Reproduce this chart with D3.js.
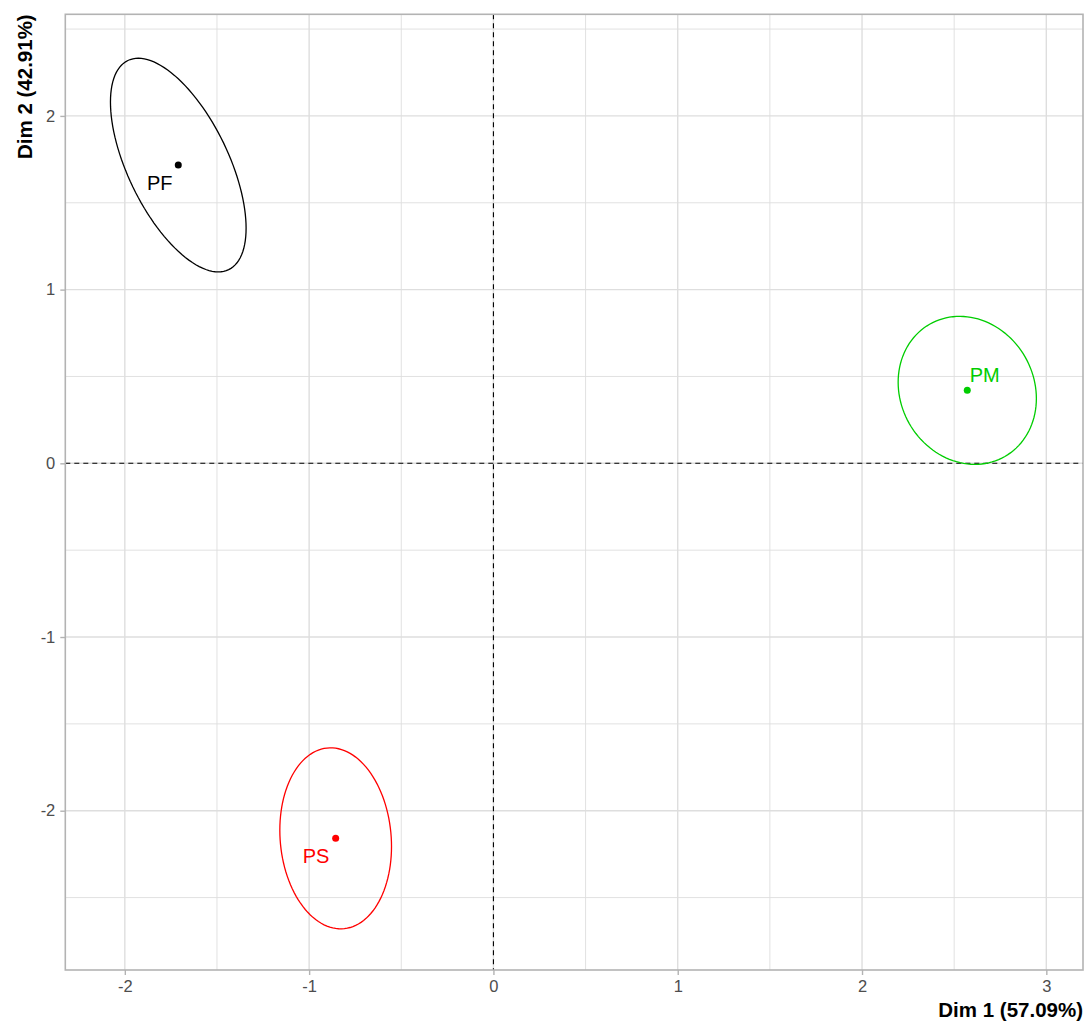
<!DOCTYPE html>
<html>
<head>
<meta charset="utf-8">
<script src="https://cdn.jsdelivr.net/npm/d3@7"></script>
<style>
  html, body { margin: 0; padding: 0; background: #ffffff; }
  svg { display: block; font-family: "Liberation Sans", Arial, sans-serif; }
</style>
</head>
<body>
<svg id="chart" width="1085" height="1021"></svg>
<script>
// Group centroids on the first two dimensions
const groups = ["PF", "PS", "PM"];
const groupColors = ["#000000", "#FF0000", "#00CD00"];
const dim1 = [-1.710, -0.856, 2.571];
const dim2 = [1.717, -2.159, 0.420];

// Label anchor positions (repelled from the points)
const labelDim1 = [-1.811, -0.962, 2.666];
const labelDim2 = [1.615, -2.262, 0.510];

// Confidence ellipse shape: half-extent on each dimension and correlation
const ellipseHalf1 = [0.368, 0.303, 0.375];
const ellipseHalf2 = [0.615, 0.521, 0.426];
const ellipseRho = [-0.59, -0.09, -0.11];

// Axis ticks and titles
const xTicks = [-2, -1, 0, 1, 2, 3];
const yTicks = [-2, -1, 0, 1, 2];
const xMinor = [-1.5, -0.5, 0.5, 1.5, 2.5];
const yMinor = [-2.5, -1.5, -0.5, 0.5, 1.5, 2.5];
const xTitle = "Dim 1 (57.09%)";
const yTitle = "Dim 2 (42.91%)";

const W = 1085, H = 1021;
const margin = { top: 14.3, right: 2, bottom: 51, left: 65.3 };
const pw = W - margin.left - margin.right;
const ph = H - margin.top - margin.bottom;

const svg = d3.select("#chart");
const g = svg.append("g").attr("transform", `translate(${margin.left},${margin.top})`);

const x = d3.scaleLinear().domain([-2.323, 3.199]).range([0, pw]);
const y = d3.scaleLinear().domain([-2.917, 2.585]).range([ph, 0]);

// Grid
const grid = g.append("g");
grid.selectAll(".vminor").data(xMinor).join("line")
  .attr("x1", d => x(d)).attr("x2", d => x(d)).attr("y1", 0).attr("y2", ph)
  .attr("stroke", "#dedede").attr("stroke-width", 0.9);
grid.selectAll(".hminor").data(yMinor).join("line")
  .attr("y1", d => y(d)).attr("y2", d => y(d)).attr("x1", 0).attr("x2", pw)
  .attr("stroke", "#dedede").attr("stroke-width", 0.9);
grid.selectAll(".vmajor").data(xTicks).join("line")
  .attr("x1", d => x(d)).attr("x2", d => x(d)).attr("y1", 0).attr("y2", ph)
  .attr("stroke", "#dedede").attr("stroke-width", 1.4);
grid.selectAll(".hmajor").data(yTicks).join("line")
  .attr("y1", d => y(d)).attr("y2", d => y(d)).attr("x1", 0).attr("x2", pw)
  .attr("stroke", "#dedede").attr("stroke-width", 1.4);

// Reference lines through the origin
g.append("line")
  .attr("x1", 0).attr("x2", pw).attr("y1", y(0)).attr("y2", y(0))
  .attr("stroke", "#000").attr("stroke-width", 1.1).attr("stroke-dasharray", "5,4");
g.append("line")
  .attr("x1", x(0)).attr("x2", x(0)).attr("y1", 0).attr("y2", ph)
  .attr("stroke", "#000").attr("stroke-width", 1.1).attr("stroke-dasharray", "5,4");

// Ellipses
const line = d3.line().x(d => x(d[0])).y(d => y(d[1])).curve(d3.curveLinearClosed);
groups.forEach((name, i) => {
  const pts = d3.range(120).map(k => {
    const t = (k / 120) * 2 * Math.PI;
    const r = ellipseRho[i];
    return [
      dim1[i] + ellipseHalf1[i] * Math.cos(t),
      dim2[i] + ellipseHalf2[i] * (r * Math.cos(t) + Math.sqrt(1 - r * r) * Math.sin(t))
    ];
  });
  g.append("path").datum(pts)
    .attr("d", line)
    .attr("fill", "none")
    .attr("stroke", groupColors[i])
    .attr("stroke-width", 1.3);
});

// Centroid points
g.selectAll(".pt").data(groups).join("circle")
  .attr("cx", (d, i) => x(dim1[i]))
  .attr("cy", (d, i) => y(dim2[i]))
  .attr("r", 3.5)
  .attr("fill", (d, i) => groupColors[i]);

// Centroid labels
g.selectAll(".lbl").data(groups).join("text")
  .attr("x", (d, i) => x(labelDim1[i]))
  .attr("y", (d, i) => y(labelDim2[i]))
  .attr("dy", "0.36em")
  .attr("text-anchor", "middle")
  .attr("font-size", 20)
  .attr("fill", (d, i) => groupColors[i])
  .text(d => d);

// Panel border
g.append("rect")
  .attr("x", 0).attr("y", 0).attr("width", pw).attr("height", ph)
  .attr("fill", "none").attr("stroke", "#b3b3b3").attr("stroke-width", 1.6);

// Axes
const xAxis = g.append("g").attr("transform", `translate(0,${ph})`)
  .call(d3.axisBottom(x).tickValues(xTicks).tickSize(5).tickPadding(5).tickFormat(d3.format("d")));
const yAxis = g.append("g")
  .call(d3.axisLeft(y).tickValues(yTicks).tickSize(5).tickPadding(5).tickFormat(d3.format("d")));
[xAxis, yAxis].forEach(a => {
  a.select(".domain").remove();
  a.selectAll(".tick line").attr("stroke", "#b3b3b3").attr("stroke-width", 1.4);
  a.selectAll(".tick text").attr("fill", "#4d4d4d").attr("font-size", 16.5)
    .attr("font-family", "Liberation Sans, Arial, sans-serif");
});
// Use a plain hyphen-minus for negative tick labels
xAxis.selectAll(".tick text").text(d => String(d));
yAxis.selectAll(".tick text").text(d => String(d));

// Axis titles
svg.append("text")
  .attr("x", margin.left + pw).attr("y", H - 4)
  .attr("text-anchor", "end")
  .attr("font-size", 20.5).attr("font-weight", "bold").attr("fill", "#000")
  .text(xTitle);
svg.append("text")
  .attr("transform", `translate(31.5,${margin.top}) rotate(-90)`)
  .attr("text-anchor", "end")
  .attr("font-size", 20.5).attr("font-weight", "bold").attr("fill", "#000")
  .text(yTitle);
</script>
</body>
</html>
